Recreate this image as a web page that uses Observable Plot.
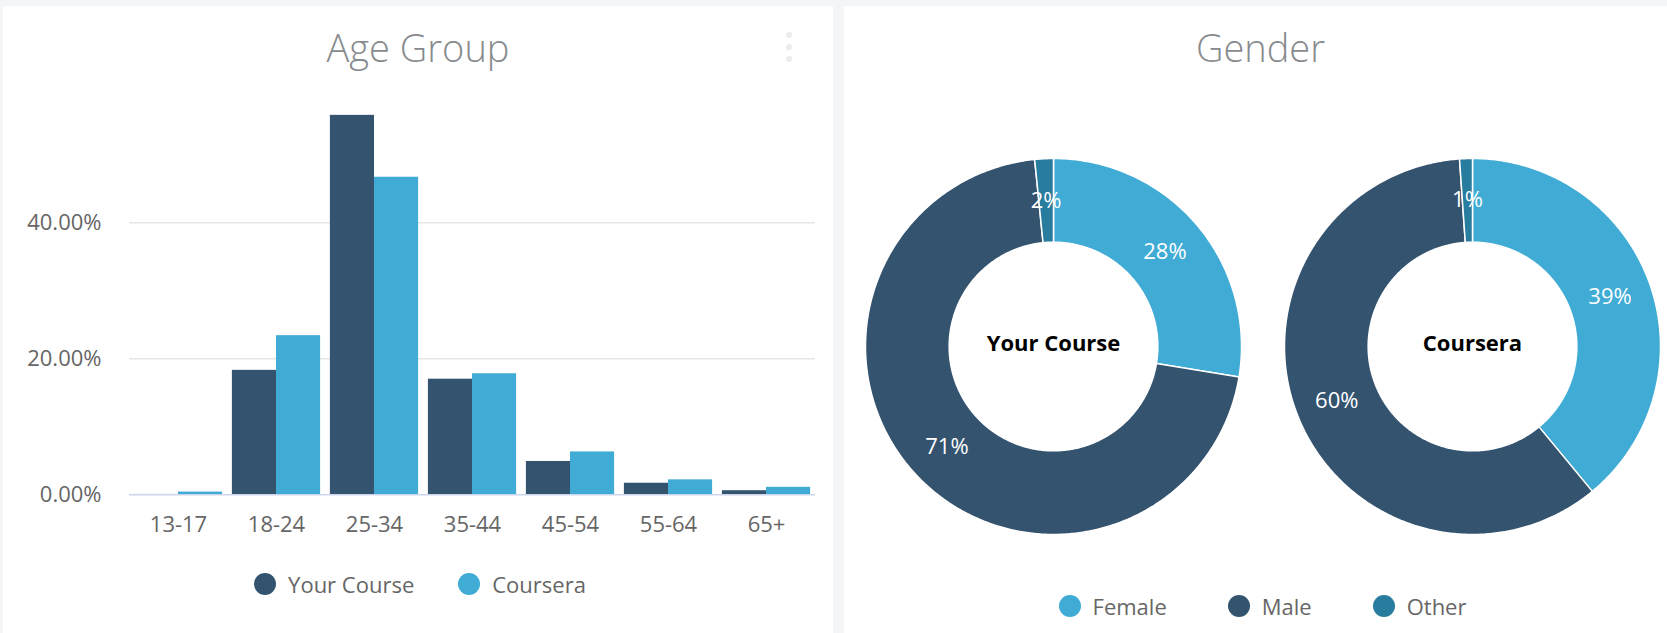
<!DOCTYPE html>
<html><head><meta charset="utf-8">
<script src="https://cdn.jsdelivr.net/npm/d3@7"></script>
<script src="https://cdn.jsdelivr.net/npm/@observablehq/plot@0.6"></script>
<style>
html,body{margin:0;padding:0;background:#f4f5f7;width:1667px;height:633px;overflow:hidden;font-family:"Open Sans",sans-serif;}
#page{position:relative;width:1667px;height:633px;}
.panel{position:absolute;background:#fff;}
.title{position:absolute;font-weight:300;font-size:38px;line-height:38px;color:#888b8e;text-align:center;}
.abs{position:absolute;}
.legend{position:absolute;display:flex;justify-content:center;align-items:center;font-size:22px;color:#666;height:30px;}
.legend .item{display:flex;align-items:center;}
.legend .sw{width:22px;height:22px;border-radius:50%;margin-right:12px;}
.menu{position:absolute;width:6px;height:6px;border-radius:50%;background:#ebebeb;}
</style></head>
<body><div id="page">
<div class="panel" style="left:3px;top:6px;width:830px;height:627px;"></div>
<div class="panel" style="left:844px;top:6px;width:823px;height:627px;"></div>
<div class="title" style="left:3px;top:28px;width:830px;">Age Group</div>
<div class="title" style="left:849px;top:28px;width:823px;">Gender</div>
<div class="menu" style="left:786px;top:32px;"></div>
<div class="menu" style="left:786px;top:44px;"></div>
<div class="menu" style="left:786px;top:56px;"></div>
<div id="bars" class="abs" style="left:0px;top:80px;"></div>
<div id="legAge" class="legend" style="left:5px;top:569px;width:830px;gap:44px;"></div>
<div id="donut1" class="abs" style="left:858px;top:146px;"></div>
<div id="donut2" class="abs" style="left:1277px;top:146px;"></div>
<div id="legGender" class="legend" style="left:851px;top:591px;width:823px;gap:61px;"></div>
</div>
<script>
// ---- Data ----
const ages = ["13-17", "18-24", "25-34", "35-44", "45-54", "55-64", "65+"];
const yourCourse = [0.05, 18.3, 55.8, 17.0, 4.9, 1.7, 0.6];
const coursera = [0.4, 23.4, 46.7, 17.8, 6.3, 2.2, 1.1];
const series = ["Your Course", "Coursera"];
const seriesColors = ["#34536f", "#40acd6"];
const yTicks = [0, 20, 40];

const genders = ["Female", "Male", "Other"];
const genderColors = ["#40acd6", "#34536f", "#287c9d"];
const yourCourseGender = [27.6, 70.8, 1.6];
const courseraGender = [39.0, 59.9, 1.1];
const donutNames = ["Your Course", "Coursera"];

const font = '"Open Sans", sans-serif';

// ---- Bar chart ----
const W = 840, ML = 129, MR = 25, PI = 0.1, PO = 0.05;
const step = (W - ML - MR) / (ages.length - PI + 2 * PO);
const half = step * (1 - PI) / 2;

const ycData = ages.map((a, i) => ({age: a, series: series[0], value: yourCourse[i]}));
const coData = ages.map((a, i) => ({age: a, series: series[1], value: coursera[i]}));

const bars = Plot.plot({
  width: W, height: 480,
  marginLeft: ML, marginRight: MR, marginTop: 33.5, marginBottom: 65.7,
  style: {fontFamily: font, fontSize: "22px", color: "#666", background: "transparent", overflow: "visible"},
  x: {domain: ages, paddingInner: PI, paddingOuter: PO, round: false, tickSize: 0, tickPadding: 22, label: null},
  y: {domain: [0, 56], ticks: yTicks, tickSize: 0, tickPadding: 28, tickFormat: d => d.toFixed(2) + "%", label: null},
  color: {domain: series, range: seriesColors},
  marks: [
    Plot.ruleY(yTicks.filter(t => t > 0), {stroke: "#e6e6e6", strokeWidth: 1.5}),
    Plot.barY(ycData, {x: "age", y: "value", fill: "series", insetLeft: 0, insetRight: half}),
    Plot.barY(coData, {x: "age", y: "value", fill: "series", insetLeft: half, insetRight: 0}),
    Plot.ruleY([0], {stroke: "#ccd6eb", strokeWidth: 1.5})
  ]
});
document.getElementById("bars").appendChild(bars);

function legend(el, names, colors) {
  names.forEach((n, i) => {
    const it = document.createElement("div"); it.className = "item";
    const sw = document.createElement("span"); sw.className = "sw"; sw.style.background = colors[i];
    const t = document.createElement("span"); t.textContent = n;
    it.appendChild(sw); it.appendChild(t); el.appendChild(it);
  });
}
legend(document.getElementById("legAge"), series, seriesColors);
legend(document.getElementById("legGender"), genders, genderColors);

// ---- Donuts ----
const R = 188, DW = 390, DH = 400, INNER = 0.555;
function donut(values, name) {
  const data = genders.map((g, i) => ({gender: g, value: values[i]}));
  const arcs = d3.pie().sort(null).value(d => d.value)(data);
  const pts = [];
  arcs.forEach(a => {
    const n = Math.max(2, Math.ceil((a.endAngle - a.startAngle) / 0.01));
    for (let k = 0; k <= n; k++) {
      const t = a.startAngle + (a.endAngle - a.startAngle) * k / n;
      pts.push({gender: a.data.gender, x: Math.sin(t), y: Math.cos(t)});
    }
    for (let k = n; k >= 0; k--) {
      const t = a.startAngle + (a.endAngle - a.startAngle) * k / n;
      pts.push({gender: a.data.gender, x: INNER * Math.sin(t), y: INNER * Math.cos(t)});
    }
  });
  const mid = (1 + INNER) / 2;
  const labels = arcs.map(a => {
    const t = (a.startAngle + a.endAngle) / 2;
    return {x: mid * Math.sin(t), y: mid * Math.cos(t), text: Math.round(a.data.value) + "%"};
  });
  return Plot.plot({
    width: DW, height: DH, margin: 0,
    style: {fontFamily: font, fontSize: "22px", background: "transparent", overflow: "visible"},
    x: {domain: [-DW / 2 / R, DW / 2 / R], axis: null},
    y: {domain: [-DH / 2 / R, DH / 2 / R], axis: null},
    color: {domain: genders, range: genderColors},
    marks: [
      Plot.line(pts, {x: "x", y: "y", z: "gender", fill: "gender", stroke: "white", strokeWidth: 1.5, curve: "linear-closed"}),
      Plot.text(labels, {x: "x", y: "y", text: "text", fill: "white", fontSize: 22}),
      Plot.text([name], {text: d => d, frameAnchor: "middle", dy: -3, fill: "#000", fontWeight: "bold", fontSize: 22})
    ]
  });
}
document.getElementById("donut1").appendChild(donut(yourCourseGender, donutNames[0]));
document.getElementById("donut2").appendChild(donut(courseraGender, donutNames[1]));
</script>
</body></html>
